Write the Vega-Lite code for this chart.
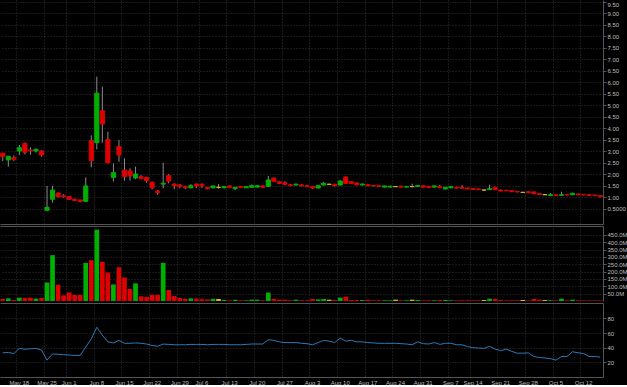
{
  "$schema": "https://vega.github.io/schema/vega-lite/v6.json",
  "background": "#000000",
  "padding": 0,
  "spacing": 2,
  "bounds": "flush",
  "config": {
    "view": {"stroke": null},
    "axis": {
      "labelFont": "Liberation Sans",
      "labelFontSize": 6,
      "labelColor": "#bdbdbd",
      "domainColor": "#555555",
      "tickColor": "#555555",
      "gridColor": "#333333",
      "gridDash": [1, 2],
      "title": null,
      "labelOverlap": false,
      "labelAngle": 0
    }
  },
  "resolve": {"scale": {"x": "shared"}},
  "data": {"values": [
    {"d":"May 13","o":2.91,"h":2.93,"l":2.57,"c":2.76,"v":13.6,"r":33},
    {"d":"May 14","o":2.62,"h":2.80,"l":2.33,"c":2.78,"v":18,"r":33.5},
    {"d":"May 15","o":2.72,"h":2.82,"l":2.57,"c":2.65,"v":7,"r":32},
    {"d":"May 18","o":3.01,"h":3.27,"l":2.83,"c":3.15,"v":22.6,"r":39},
    {"d":"May 19","o":3.34,"h":3.38,"l":2.86,"c":2.95,"v":20,"r":38},
    {"d":"May 20","o":3.05,"h":3.17,"l":2.84,"c":3.02,"v":22.6,"r":38.5},
    {"d":"May 21","o":3.01,"h":3.12,"l":2.94,"c":3.08,"v":16,"r":39},
    {"d":"May 22","o":3.01,"h":3.05,"l":2.76,"c":2.83,"v":20,"r":37},
    {"d":"May 26","o":0.43,"h":1.49,"l":0.41,"c":0.56,"v":126,"r":23},
    {"d":"May 27","o":0.91,"h":1.49,"l":0.76,"c":1.31,"v":312,"r":31.5},
    {"d":"May 28","o":1.18,"h":1.21,"l":0.99,"c":1.02,"v":111,"r":31},
    {"d":"May 29","o":1.06,"h":1.13,"l":0.99,"c":1.02,"v":38,"r":30.5},
    {"d":"Jun 1","o":1.02,"h":1.05,"l":0.88,"c":0.91,"v":59,"r":30},
    {"d":"Jun 2","o":0.91,"h":0.94,"l":0.82,"c":0.86,"v":41,"r":29.5},
    {"d":"Jun 3","o":0.88,"h":0.89,"l":0.78,"c":0.82,"v":41,"r":29.5},
    {"d":"Jun 4","o":0.82,"h":1.86,"l":0.79,"c":1.49,"v":260,"r":41},
    {"d":"Jun 5","o":3.46,"h":3.69,"l":2.30,"c":2.59,"v":278,"r":52},
    {"d":"Jun 8","o":3.37,"h":6.24,"l":3.08,"c":5.52,"v":486,"r":68},
    {"d":"Jun 9","o":4.76,"h":5.81,"l":3.37,"c":4.18,"v":267,"r":57},
    {"d":"Jun 10","o":3.51,"h":3.85,"l":2.47,"c":2.50,"v":194,"r":48},
    {"d":"Jun 11","o":1.86,"h":2.47,"l":1.68,"c":2.07,"v":113,"r":46.5},
    {"d":"Jun 12","o":3.20,"h":3.49,"l":2.54,"c":2.83,"v":230,"r":50},
    {"d":"Jun 15","o":2.18,"h":2.69,"l":1.72,"c":1.89,"v":160,"r":46},
    {"d":"Jun 16","o":2.14,"h":2.26,"l":1.72,"c":1.93,"v":81,"r":46},
    {"d":"Jun 17","o":1.84,"h":2.33,"l":1.78,"c":2.01,"v":120,"r":46.5},
    {"d":"Jun 18","o":1.89,"h":1.96,"l":1.78,"c":1.81,"v":32,"r":46},
    {"d":"Jun 19","o":1.86,"h":1.89,"l":1.63,"c":1.72,"v":27,"r":45},
    {"d":"Jun 22","o":1.65,"h":1.68,"l":1.34,"c":1.41,"v":41,"r":43},
    {"d":"Jun 23","o":1.27,"h":1.31,"l":1.10,"c":1.20,"v":41,"r":42},
    {"d":"Jun 24","o":1.57,"h":2.50,"l":1.39,"c":1.61,"v":260,"r":45},
    {"d":"Jun 25","o":1.94,"h":2.01,"l":1.60,"c":1.70,"v":75,"r":44.5},
    {"d":"Jun 26","o":1.57,"h":1.60,"l":1.34,"c":1.50,"v":34,"r":44},
    {"d":"Jun 29","o":1.53,"h":1.57,"l":1.39,"c":1.46,"v":20,"r":44},
    {"d":"Jun 30","o":1.45,"h":1.50,"l":1.36,"c":1.41,"v":14,"r":44},
    {"d":"Jul 1","o":1.41,"h":1.57,"l":1.39,"c":1.50,"v":18,"r":44.5},
    {"d":"Jul 2","o":1.57,"h":1.60,"l":1.40,"c":1.49,"v":16,"r":44.5},
    {"d":"Jul 6","o":1.56,"h":1.60,"l":1.40,"c":1.50,"v":12,"r":44.5},
    {"d":"Jul 7","o":1.43,"h":1.44,"l":1.34,"c":1.37,"v":11,"r":44},
    {"d":"Jul 8","o":1.41,"h":1.50,"l":1.38,"c":1.49,"v":16,"r":44.5},
    {"d":"Jul 9","o":1.43,"h":1.57,"l":1.37,"c":1.43,"v":14,"r":44.5},
    {"d":"Jul 10","o":1.41,"h":1.48,"l":1.39,"c":1.46,"v":7,"r":44.5},
    {"d":"Jul 13","o":1.49,"h":1.51,"l":1.41,"c":1.43,"v":5,"r":44},
    {"d":"Jul 14","o":1.37,"h":1.44,"l":1.31,"c":1.43,"v":9,"r":44},
    {"d":"Jul 15","o":1.47,"h":1.49,"l":1.41,"c":1.43,"v":5,"r":44},
    {"d":"Jul 16","o":1.41,"h":1.48,"l":1.40,"c":1.46,"v":5,"r":44.5},
    {"d":"Jul 17","o":1.43,"h":1.55,"l":1.41,"c":1.50,"v":9,"r":45},
    {"d":"Jul 20","o":1.44,"h":1.53,"l":1.42,"c":1.50,"v":9,"r":45},
    {"d":"Jul 21","o":1.49,"h":1.51,"l":1.41,"c":1.43,"v":5,"r":45},
    {"d":"Jul 22","o":1.47,"h":1.92,"l":1.46,"c":1.75,"v":57,"r":51},
    {"d":"Jul 23","o":1.83,"h":1.86,"l":1.66,"c":1.69,"v":14,"r":50},
    {"d":"Jul 24","o":1.67,"h":1.70,"l":1.57,"c":1.60,"v":9,"r":48},
    {"d":"Jul 27","o":1.63,"h":1.70,"l":1.52,"c":1.56,"v":9,"r":47},
    {"d":"Jul 28","o":1.54,"h":1.57,"l":1.48,"c":1.50,"v":5,"r":47},
    {"d":"Jul 29","o":1.53,"h":1.59,"l":1.51,"c":1.57,"v":9,"r":47},
    {"d":"Jul 30","o":1.53,"h":1.55,"l":1.47,"c":1.49,"v":5,"r":46},
    {"d":"Jul 31","o":1.50,"h":1.52,"l":1.44,"c":1.46,"v":5,"r":45.5},
    {"d":"Aug 3","o":1.46,"h":1.48,"l":1.36,"c":1.40,"v":14,"r":44},
    {"d":"Aug 4","o":1.40,"h":1.52,"l":1.38,"c":1.50,"v":11,"r":47},
    {"d":"Aug 5","o":1.53,"h":1.66,"l":1.51,"c":1.60,"v":14,"r":50},
    {"d":"Aug 6","o":1.56,"h":1.59,"l":1.53,"c":1.56,"v":9,"r":49},
    {"d":"Aug 7","o":1.56,"h":1.58,"l":1.46,"c":1.51,"v":7,"r":47},
    {"d":"Aug 10","o":1.53,"h":1.74,"l":1.51,"c":1.70,"v":23,"r":53},
    {"d":"Aug 11","o":1.88,"h":1.90,"l":1.57,"c":1.60,"v":29,"r":49},
    {"d":"Aug 12","o":1.67,"h":1.70,"l":1.58,"c":1.60,"v":7,"r":50},
    {"d":"Aug 13","o":1.62,"h":1.64,"l":1.52,"c":1.54,"v":7,"r":48},
    {"d":"Aug 14","o":1.53,"h":1.60,"l":1.51,"c":1.57,"v":7,"r":48},
    {"d":"Aug 17","o":1.54,"h":1.56,"l":1.48,"c":1.50,"v":9,"r":47},
    {"d":"Aug 18","o":1.51,"h":1.53,"l":1.47,"c":1.49,"v":5,"r":46.5},
    {"d":"Aug 19","o":1.50,"h":1.52,"l":1.46,"c":1.47,"v":5,"r":46},
    {"d":"Aug 20","o":1.44,"h":1.50,"l":1.43,"c":1.49,"v":5,"r":46},
    {"d":"Aug 21","o":1.44,"h":1.49,"l":1.43,"c":1.48,"v":5,"r":46},
    {"d":"Aug 24","o":1.46,"h":1.48,"l":1.44,"c":1.46,"v":9,"r":46},
    {"d":"Aug 25","o":1.48,"h":1.50,"l":1.43,"c":1.44,"v":5,"r":45.5},
    {"d":"Aug 26","o":1.44,"h":1.48,"l":1.43,"c":1.47,"v":5,"r":45},
    {"d":"Aug 27","o":1.46,"h":1.59,"l":1.43,"c":1.46,"v":9,"r":44},
    {"d":"Aug 28","o":1.47,"h":1.53,"l":1.46,"c":1.51,"v":7,"r":48},
    {"d":"Aug 31","o":1.49,"h":1.51,"l":1.42,"c":1.44,"v":5,"r":45.5},
    {"d":"Sep 1","o":1.47,"h":1.49,"l":1.41,"c":1.43,"v":5,"r":45},
    {"d":"Sep 2","o":1.44,"h":1.50,"l":1.42,"c":1.49,"v":5,"r":47},
    {"d":"Sep 3","o":1.46,"h":1.54,"l":1.41,"c":1.43,"v":7,"r":44.5},
    {"d":"Sep 4","o":1.36,"h":1.44,"l":1.34,"c":1.43,"v":7,"r":46},
    {"d":"Sep 8","o":1.41,"h":1.47,"l":1.39,"c":1.46,"v":5,"r":46},
    {"d":"Sep 9","o":1.43,"h":1.45,"l":1.38,"c":1.40,"v":5,"r":44},
    {"d":"Sep 10","o":1.43,"h":1.52,"l":1.37,"c":1.39,"v":5,"r":44},
    {"d":"Sep 11","o":1.40,"h":1.41,"l":1.34,"c":1.36,"v":5,"r":41.5},
    {"d":"Sep 14","o":1.37,"h":1.39,"l":1.32,"c":1.34,"v":5,"r":40},
    {"d":"Sep 15","o":1.36,"h":1.37,"l":1.31,"c":1.33,"v":5,"r":39.5},
    {"d":"Sep 16","o":1.31,"h":1.33,"l":1.29,"c":1.31,"v":7,"r":39},
    {"d":"Sep 17","o":1.33,"h":1.54,"l":1.31,"c":1.37,"v":16,"r":42},
    {"d":"Sep 18","o":1.43,"h":1.45,"l":1.31,"c":1.33,"v":14,"r":38},
    {"d":"Sep 21","o":1.31,"h":1.33,"l":1.25,"c":1.27,"v":7,"r":36},
    {"d":"Sep 22","o":1.30,"h":1.32,"l":1.26,"c":1.28,"v":5,"r":38},
    {"d":"Sep 23","o":1.28,"h":1.29,"l":1.22,"c":1.24,"v":5,"r":35},
    {"d":"Sep 24","o":1.25,"h":1.27,"l":1.21,"c":1.23,"v":5,"r":32.5},
    {"d":"Sep 25","o":1.21,"h":1.23,"l":1.19,"c":1.21,"v":7,"r":32.5},
    {"d":"Sep 28","o":1.24,"h":1.25,"l":1.18,"c":1.20,"v":4,"r":33},
    {"d":"Sep 29","o":1.23,"h":1.24,"l":1.13,"c":1.15,"v":14,"r":28},
    {"d":"Sep 30","o":1.15,"h":1.17,"l":1.10,"c":1.12,"v":9,"r":26.5},
    {"d":"Oct 1","o":1.11,"h":1.13,"l":1.09,"c":1.11,"v":7,"r":26},
    {"d":"Oct 2","o":1.07,"h":1.17,"l":1.05,"c":1.11,"v":5,"r":25},
    {"d":"Oct 5","o":1.10,"h":1.12,"l":1.05,"c":1.07,"v":5,"r":23},
    {"d":"Oct 6","o":1.08,"h":1.24,"l":1.06,"c":1.11,"v":16,"r":28},
    {"d":"Oct 7","o":1.12,"h":1.14,"l":1.08,"c":1.10,"v":5,"r":28},
    {"d":"Oct 8","o":1.11,"h":1.19,"l":1.10,"c":1.17,"v":9,"r":34.5},
    {"d":"Oct 9","o":1.14,"h":1.16,"l":1.09,"c":1.11,"v":5,"r":33},
    {"d":"Oct 12","o":1.12,"h":1.13,"l":1.08,"c":1.10,"v":4,"r":32},
    {"d":"Oct 13","o":1.11,"h":1.12,"l":1.06,"c":1.08,"v":4,"r":28},
    {"d":"Oct 14","o":1.09,"h":1.10,"l":1.05,"c":1.07,"v":4,"r":28},
    {"d":"Oct 15","o":1.07,"h":1.08,"l":1.00,"c":1.02,"v":4,"r":27}
  ]},
  "vconcat": [
    {
      "width": 603,
      "height": 224,
      "layer": [
        {
          "mark": {"type": "rule", "color": "#8c8c8c", "strokeWidth": 1},
          "encoding": {
            "x": {"field": "d", "type": "ordinal", "sort": null,
                  "scale": {"type": "band", "paddingInner": 0, "paddingOuter": 0},
                  "axis": {"orient": "bottom", "values": ["May 18","May 26","Jun 1","Jun 8","Jun 15","Jun 22","Jun 29","Jul 6","Jul 13","Jul 20","Jul 27","Aug 3","Aug 10","Aug 17","Aug 24","Aug 31","Sep 8","Sep 14","Sep 21","Sep 28","Oct 5","Oct 12"],
                           "bandPosition": 0, "labels": false, "ticks": false, "grid": true, "domain": true, "tickCount": 200}},
            "y": {"field": "l", "type": "quantitative",
                  "scale": {"domain": [-0.165, 9.574], "nice": false, "zero": false},
                  "axis": {"orient": "right", "values": [0.5,1,1.5,2,2.5,3,3.5,4,4.5,5,5.5,6,6.5,7,7.5,8,8.5,9,9.5],
                           "tickCount": 100,
                           "labelExpr": "datum.value == 0.5 ? '0.5000' : format(datum.value, '.2f')",
                           "labelOverlap": false,
                           "grid": true, "tickSize": 3, "labelPadding": 1, "labelFlush": 3}},
            "y2": {"field": "h"}
          }
        },
        {
          "mark": {"type": "bar", "width": {"band": 0.75}, "strokeWidth": 1},
          "encoding": {
            "x": {"field": "d", "type": "ordinal", "sort": null},
            "y": {"field": "o", "type": "quantitative"},
            "y2": {"field": "c"},
            "fill": {"condition": [{"test": "datum.c > datum.o", "value": "#00b000"}, {"test": "datum.c < datum.o", "value": "#e00000"}], "value": "#c8c000"},
            "stroke": {"condition": [{"test": "datum.c > datum.o", "value": "#00b000"}, {"test": "datum.c < datum.o", "value": "#e00000"}], "value": "#c8c000"}
          }
        }
      ]
    },
    {
      "width": 603,
      "height": 75,
      "mark": {"type": "bar", "width": {"band": 0.85}},
      "encoding": {
        "x": {"field": "d", "type": "ordinal", "sort": null,
              "axis": {"orient": "top", "values": ["May 18","May 26","Jun 1","Jun 8","Jun 15","Jun 22","Jun 29","Jul 6","Jul 13","Jul 20","Jul 27","Aug 3","Aug 10","Aug 17","Aug 24","Aug 31","Sep 8","Sep 14","Sep 21","Sep 28","Oct 5","Oct 12"],
                       "bandPosition": 0, "labels": false, "ticks": false, "grid": true, "domain": true, "tickCount": 200}},
        "y": {"field": "v", "type": "quantitative",
              "scale": {"domain": [0, 511], "nice": false},
              "axis": {"orient": "right", "values": [50,100,150,200,250,300,350,400,450],
                       "tickCount": 100,
                       "labelExpr": "format(datum.value, '.1f') + 'M'",
                       "labelOverlap": false,
                       "grid": true, "tickSize": 3, "labelPadding": 1}},
        "fill": {"condition": [{"test": "datum.c > datum.o", "value": "#00b000"}, {"test": "datum.c < datum.o", "value": "#e00000"}], "value": "#c8c000"}
      }
    },
    {
      "width": 603,
      "height": 74,
      "resolve": {"axis": {"x": "independent"}},
      "layer": [
        {
          "mark": {"type": "line", "color": "#2a7ab8", "strokeWidth": 1},
          "encoding": {
            "x": {"field": "d", "type": "ordinal", "sort": null,
                  "axis": {"orient": "bottom", "values": ["May 18","May 26","Jun 1","Jun 8","Jun 15","Jun 22","Jun 29","Jul 6","Jul 13","Jul 20","Jul 27","Aug 3","Aug 10","Aug 17","Aug 24","Aug 31","Sep 8","Sep 14","Sep 21","Sep 28","Oct 5","Oct 12"],
                           "tickCount": 200,
                           "bandPosition": 0, "labelAngle": 0, "labelOverlap": false,
                           "labelExpr": "datum.value == 'May 26' ? 'May 25' : datum.value == 'Sep 8' ? 'Sep 7' : datum.value",
                           "grid": true, "ticks": false, "labelPadding": 2, "domain": true}},
            "y": {"field": "r", "type": "quantitative",
                  "scale": {"domain": [0, 101], "nice": false},
                  "axis": {"orient": "right", "values": [20,40,60,80], "tickCount": 100, "labelOverlap": false, "grid": true, "tickSize": 3, "labelPadding": 1}}
          }
        },
        {
          "mark": {"type": "line", "opacity": 0},
          "encoding": {
            "x": {"field": "d", "type": "ordinal", "sort": null,
                  "axis": {"orient": "top", "labels": false, "ticks": false, "grid": false, "domain": true}},
            "y": {"field": "r", "type": "quantitative"}
          }
        }
      ]
    }
  ]
}
